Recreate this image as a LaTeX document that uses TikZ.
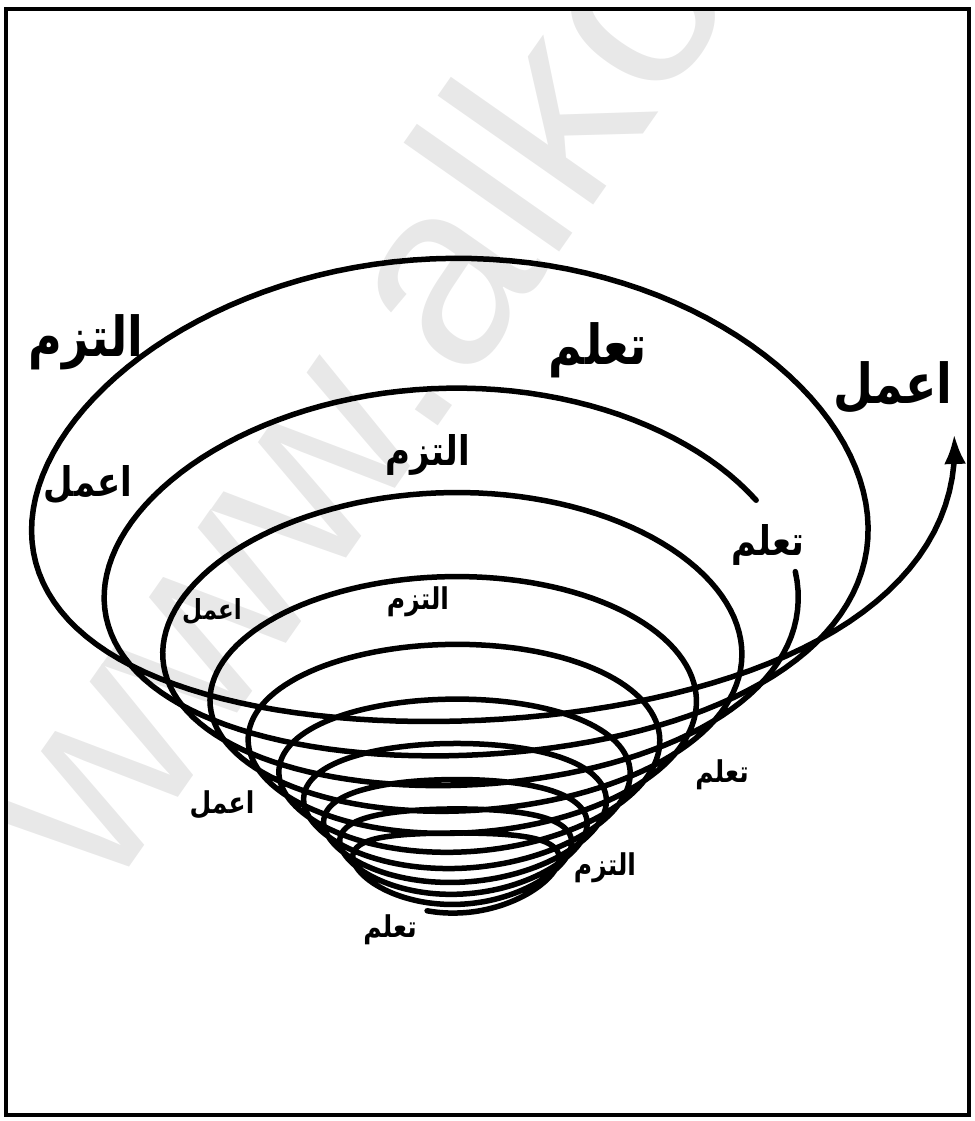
\documentclass[tikz,border=0pt]{standalone}
\usepackage{fontspec}
\newfontfamily\arb[Script=Arabic]{DejaVu Sans Bold}
\newfontfamily\wmfont{Liberation Sans}
\TeXXeTstate=1
\usetikzlibrary{arrows.meta}
\newcommand\artxt[1]{\scalebox{1}[1.2]{\arb\beginR #1\endR}}
\tikzset{
  spiral/.style={line width=5.5pt, line join=round, line cap=round},
  bigl/.style={inner sep=0pt, font=\fontsize{46}{46}\selectfont},
  midl/.style={inner sep=0pt, font=\fontsize{34}{34}\selectfont},
  smalll/.style={inner sep=0pt, font=\fontsize{25}{25}\selectfont},
  tinyl/.style={inner sep=0pt, font=\fontsize{23}{23}\selectfont},
  frame/.style={line width=4.5pt},
  watermark/.style={text=black!9, font=\wmfont\fontsize{262}{262}\selectfont}
}
\begin{document}
\begin{tikzpicture}[x=1pt,y=-1pt,
  declare function={
    ss(\t)=\t-sin(360*\t)/(2*pi);
    RR(\t)=50+368*exp(0.215*ss(\t));
    CY(\t)=936-406*exp(0.18232*ss(\t));
    bb(\t)=max(0.2,0.65+0.046*ss(\t));
    px(\t)=457+RR(\t)*cos(90+360*\t);
    py(\t)=CY(\t)-RR(\t)*sin(90+360*\t)*((bb(\t)+0.5)/2+(bb(\t)-0.5)/2*sin(90+360*\t));
  }]
\useasboundingbox (0,0) rectangle (974,1121);
\begin{scope}
  \clip (6,9) rectangle (969,1115);
  \node[watermark, rotate=55] (wm) at (348,392) {www.alko};
\end{scope}
\draw[frame] (6,9) rectangle (969,1115);
% spiral, inner part up to the gap at the label
\draw[spiral] plot[domain=-9.55:-1.222, samples=1100, variable=\t] ({px(\t)},{py(\t)});
% spiral, outer part with arrow
\draw[spiral, -{Latex[length=30pt,width=22pt]}] plot[domain=-1.167:0.762, samples=260, variable=\t] ({px(\t)},{py(\t)});
% labels
\node[bigl] (l1) at (86,342) {\artxt{التزم}};
\node[bigl] (l2) at (598,350) {\artxt{تعلم}};
\node[bigl] (l3) at (893,388) {\artxt{اعمل}};
\node[midl] (l4) at (88,485) {\artxt{اعمل}};
\node[midl] (l5) at (428,455) {\artxt{التزم}};
\node[midl] (l6) at (768,545) {\artxt{تعلم}};
\node[tinyl] (l7) at (212,612) {\artxt{اعمل}};
\node[smalll] (l8) at (418,602) {\artxt{التزم}};
\node[smalll] (l9) at (722,775) {\artxt{تعلم}};
\node[smalll] (l10) at (222,805) {\artxt{اعمل}};
\node[smalll] (l11) at (605,868) {\artxt{التزم}};
\node[smalll] (l12) at (390,930) {\artxt{تعلم}};
\end{tikzpicture}
\end{document}
